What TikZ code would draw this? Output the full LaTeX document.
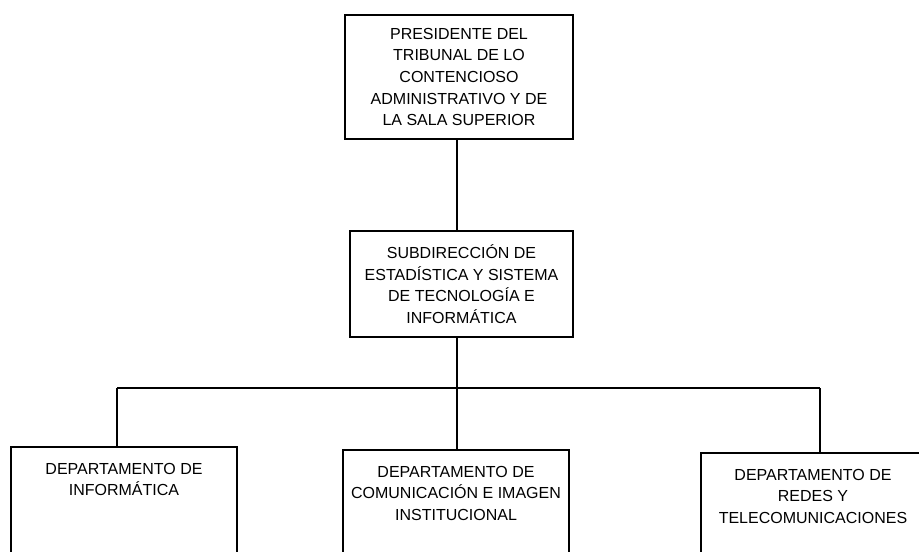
\documentclass[tikz,border=0pt]{standalone}
\usepackage{fontspec}
\setmainfont{Liberation Sans}

\begin{document}
\begin{tikzpicture}[x=0.75pt,y=-0.75pt,
    box/.style={draw,line width=1.5pt,align=center,inner sep=0pt,
      font=\fontsize{12}{16.2}\selectfont},
    dept/.style={box,anchor=north,minimum width=169.5pt,text depth=110pt,inner ysep=12pt},
    link/.style={line width=1.2pt}]
  \useasboundingbox (0,0) rectangle (919,551);
  \clip (0,0) rectangle (919,551);

  \node[box,minimum width=171pt,minimum height=93pt] (pres) at (459,77)
    {PRESIDENTE DEL\\TRIBUNAL DE LO\\CONTENCIOSO\\ADMINISTRATIVO Y DE\\LA SALA SUPERIOR};
  \node[box,minimum width=167pt,minimum height=79.5pt] (sub) at (461.5,284)
    {SUBDIRECCIÓN DE\\ESTADÍSTICA Y SISTEMA\\DE TECNOLOGÍA E\\INFORMÁTICA};

  \node[dept] (dinf) at (124,446) {DEPARTAMENTO DE\\INFORMÁTICA};
  \node[dept] (dcom) at (456,449) {DEPARTAMENTO DE\\COMUNICACIÓN E IMAGEN\\INSTITUCIONAL};
  \node[dept,minimum width=168pt] (dred) at (813,452) {DEPARTAMENTO DE\\REDES Y\\TELECOMUNICACIONES};

  \coordinate (bus) at (457,388);
  \coordinate (busL) at (117,388);
  \coordinate (busR) at (820,388);

  \draw[link] (bus |- pres.south) -- (bus |- sub.north);
  \draw[link] (bus |- sub.south) -- (bus |- dcom.north);
  \draw[link] (busL) -- (busR);
  \draw[link] (busL) -- (busL |- dinf.north);
  \draw[link] (busR) -- (busR |- dred.north);
\end{tikzpicture}
\end{document}
